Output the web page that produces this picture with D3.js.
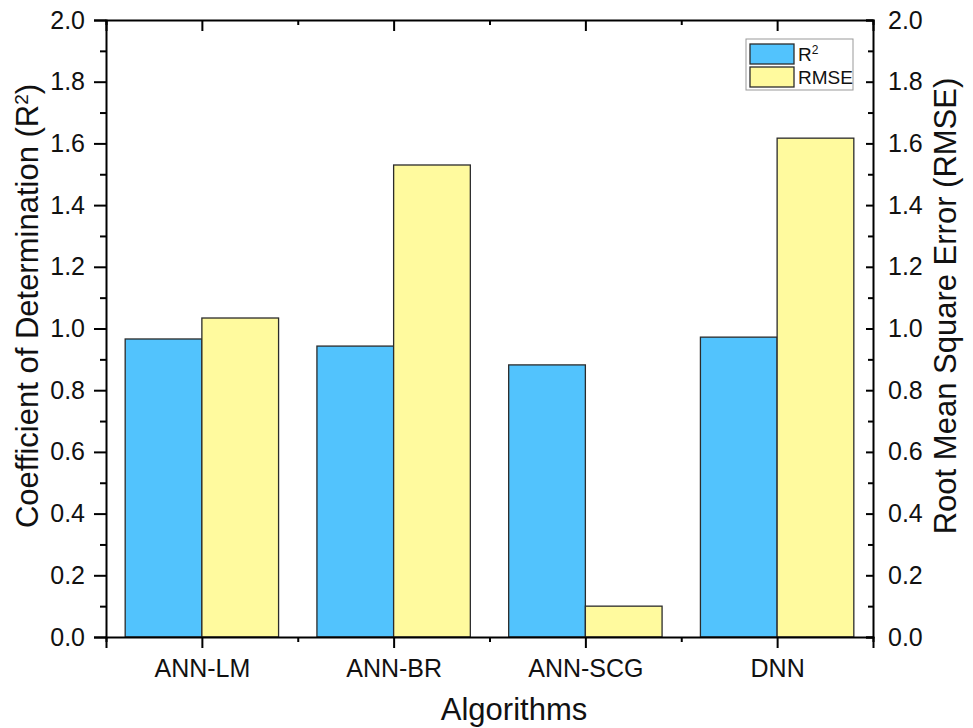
<!DOCTYPE html>
<html lang="en">
<head>
<meta charset="UTF-8">
<title>Algorithms R2 / RMSE</title>
<script src="https://d3js.org/d3.v7.min.js"></script>
<style>
  body { margin: 0; background: #fff; }
  svg text { font-family: Arial, "Liberation Sans", sans-serif; }
</style>
</head>
<body>
<script>
// data
const algorithms = ["ANN-LM", "ANN-BR", "ANN-SCG", "DNN"];
const r2Values = [0.966, 0.943, 0.882, 0.972];
const rmseValues = [1.034, 1.530, 0.100, 1.617];
const yTicks = [0, 0.2, 0.4, 0.6, 0.8, 1.0, 1.2, 1.4, 1.6, 1.8, 2.0];
const yMinorTicks = [0.1, 0.3, 0.5, 0.7, 0.9, 1.1, 1.3, 1.5, 1.7, 1.9];

const width = 973, height = 728;
const margin = {top: 20, right: 100, bottom: 91, left: 106};
const plotW = width - margin.left - margin.right;
const plotH = height - margin.top - margin.bottom;

const blue = "#52c3fd", yellow = "#fffa9e", edge = "#2b2b2b";
const tickFont = 25;

const svg = d3.select("body").append("svg")
    .attr("width", width)
    .attr("height", height);

const g = svg.append("g")
    .attr("transform", `translate(${margin.left},${margin.top})`);

const x = d3.scaleBand()
    .domain(algorithms)
    .range([0, plotW])
    .paddingInner(0.2)
    .paddingOuter(0.1);

const yL = d3.scaleLinear().domain([0, 2]).range([plotH, 0]);
const yR = d3.scaleLinear().domain([0, 2]).range([plotH, 0]);

const bw = x.bandwidth() / 2;

// bars
g.selectAll(".r2").data(algorithms).enter().append("rect")
    .attr("x", d => x(d))
    .attr("y", (d, i) => yL(r2Values[i]))
    .attr("width", bw)
    .attr("height", (d, i) => plotH - yL(r2Values[i]))
    .attr("fill", blue)
    .attr("stroke", edge)
    .attr("stroke-width", 1.3);

g.selectAll(".rmse").data(algorithms).enter().append("rect")
    .attr("x", d => x(d) + bw)
    .attr("y", (d, i) => yR(rmseValues[i]))
    .attr("width", bw)
    .attr("height", (d, i) => plotH - yR(rmseValues[i]))
    .attr("fill", yellow)
    .attr("stroke", edge)
    .attr("stroke-width", 1.3);

// category boundaries for minor ticks on x
const step = plotW / algorithms.length;
const xBounds = d3.range(algorithms.length + 1).map(i => i * step);
const xCenters = algorithms.map((d, i) => (i + 0.5) * step);

// left axis (ticks outward)
g.append("g")
    .call(d3.axisLeft(yL).tickValues(yTicks).tickFormat(d3.format(".1f")).tickSize(12).tickPadding(9));
g.append("g")
    .call(d3.axisLeft(yL).tickValues(yMinorTicks).tickFormat("").tickSize(6))
    .select(".domain").remove();

// right axis (ticks inward)
g.append("g")
    .attr("transform", `translate(${plotW},0)`)
    .call(d3.axisRight(yR).tickValues(yTicks).tickFormat(d3.format(".1f")).tickSize(-7).tickPadding(15));
g.append("g")
    .attr("transform", `translate(${plotW},0)`)
    .call(d3.axisRight(yR).tickValues(yMinorTicks).tickFormat("").tickSize(-5))
    .select(".domain").remove();

// bottom axis
const xs = d3.scaleLinear().domain([0, plotW]).range([0, plotW]);
g.append("g")
    .attr("transform", `translate(0,${plotH})`)
    .call(d3.axisBottom(xs).tickValues(xCenters).tickFormat((d, i) => algorithms[i]).tickSize(11).tickPadding(11));
g.append("g")
    .attr("transform", `translate(0,${plotH})`)
    .call(d3.axisBottom(xs).tickValues(xBounds).tickFormat("").tickSize(5))
    .select(".domain").remove();

// top axis (ticks inward)
g.append("g")
    .call(d3.axisTop(xs).tickValues(xCenters).tickFormat("").tickSize(-11));
g.append("g")
    .call(d3.axisTop(xs).tickValues(xBounds).tickFormat("").tickSize(-5))
    .select(".domain").remove();

g.selectAll(".tick text")
    .attr("font-size", tickFont)
    .attr("font-family", "Arial, 'Liberation Sans', sans-serif")
    .attr("fill", "#111");
g.selectAll(".domain").attr("stroke", "#000").attr("stroke-width", 2);
g.selectAll(".tick line").attr("stroke", "#000").attr("stroke-width", 2);

// axis titles
svg.append("text")
    .attr("x", 514)
    .attr("y", 720)
    .attr("text-anchor", "middle")
    .attr("font-size", 31)
    .attr("fill", "#111")
    .text("Algorithms");

const leftTitle = svg.append("text")
    .attr("transform", "translate(38,306) rotate(-90)")
    .attr("text-anchor", "middle")
    .attr("font-size", 31)
    .attr("fill", "#111");
leftTitle.append("tspan").text("Coefficient of Determination (R");
leftTitle.append("tspan").attr("baseline-shift", "super").attr("font-size", 19).text("2");
leftTitle.append("tspan").text(")");

svg.append("text")
    .attr("transform", "translate(956,306) rotate(-90)")
    .attr("text-anchor", "middle")
    .attr("font-size", 31)
    .attr("fill", "#111")
    .text("Root Mean Square Error (RMSE)");

// legend
const legend = svg.append("g").attr("transform", "translate(746,39)");
legend.append("rect")
    .attr("width", 107).attr("height", 51)
    .attr("fill", "#fff").attr("stroke", "#999").attr("stroke-width", 1);
const items = [{label: "R", sup: "2", color: blue}, {label: "RMSE", sup: "", color: yellow}];
items.forEach((it, i) => {
    const row = legend.append("g").attr("transform", `translate(4,${5 + i * 23})`);
    row.append("rect")
        .attr("width", 44).attr("height", 20)
        .attr("fill", it.color).attr("stroke", edge).attr("stroke-width", 1.3);
    const t = row.append("text")
        .attr("x", 48).attr("y", 17)
        .attr("font-size", 19).attr("fill", "#111");
    t.append("tspan").text(it.label);
    if (it.sup) t.append("tspan").attr("baseline-shift", "super").attr("font-size", 12).text(it.sup);
});
</script>
</body>
</html>
